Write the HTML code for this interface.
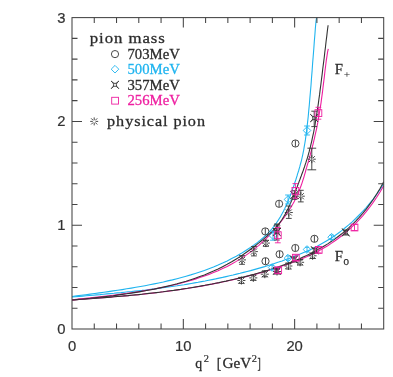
<!DOCTYPE html>
<html><head><meta charset="utf-8"><title>form factors</title>
<style>html,body{margin:0;padding:0;background:#fff;}svg{display:block}text{font-kerning:none}</style></head>
<body><svg width="393" height="377" viewBox="0 0 393 377">
<rect x="0" y="0" width="393" height="377" fill="#fff"/>
<path d="M72.0,296.9 L75.5,296.7 L79.0,296.4 L82.5,296.1 L86.0,295.8 L89.5,295.5 L93.0,295.2 L96.5,294.9 L100.0,294.6 L103.5,294.2 L107.0,293.9 L110.5,293.6 L114.0,293.3 L117.5,292.9 L121.0,292.6 L124.5,292.2 L128.0,291.8 L131.5,291.5 L135.0,291.1 L138.5,290.7 L142.0,290.4 L145.5,290.0 L149.0,289.5 L152.6,289.1 L156.1,288.7 L159.6,288.2 L163.1,287.8 L166.6,287.3 L170.1,286.8 L173.6,286.3 L177.1,285.8 L180.6,285.2 L184.1,284.7 L187.6,284.1 L191.1,283.5 L194.6,282.9 L198.1,282.3 L201.6,281.6 L205.1,281.0 L208.6,280.3 L212.1,279.6 L215.6,278.9 L219.1,278.1 L222.6,277.4 L226.1,276.6 L229.6,275.8 L233.1,275.0 L236.6,274.1 L240.1,273.3 L243.6,272.4 L247.1,271.5 L250.6,270.6 L254.1,269.6 L257.6,268.6 L261.1,267.6 L264.6,266.6 L268.1,265.5 L271.6,264.4 L275.1,263.2 L278.6,262.1 L282.1,260.9 L285.6,259.6 L289.1,258.4 L292.6,257.1 L296.1,255.7 L299.6,254.3 L303.1,252.8 L306.7,251.3 L310.2,249.7 L313.7,248.0 L317.2,246.2 L320.7,244.3 L324.2,242.3 L327.7,240.2 L331.2,238.0 L334.7,235.7 L338.2,233.2 L341.7,230.6 L345.2,227.8 L348.7,224.9 L352.2,221.8 L355.7,218.5 L359.2,215.0 L362.7,211.4 L366.2,207.5 L369.7,203.4 L373.2,199.0 L376.7,194.2 L380.2,189.2 L383.7,183.7" fill="none" stroke="#1fb4ef" stroke-width="1.1"/>
<path d="M72.0,299.9 L75.5,299.7 L79.0,299.4 L82.5,299.2 L86.0,298.9 L89.5,298.7 L93.0,298.4 L96.5,298.2 L100.0,297.9 L103.5,297.7 L107.0,297.4 L110.5,297.1 L114.0,296.8 L117.5,296.5 L121.0,296.2 L124.5,295.9 L128.0,295.6 L131.5,295.3 L135.0,295.0 L138.5,294.6 L142.0,294.3 L145.5,293.9 L149.0,293.5 L152.6,293.1 L156.1,292.7 L159.6,292.3 L163.1,291.8 L166.6,291.4 L170.1,290.9 L173.6,290.5 L177.1,290.0 L180.6,289.5 L184.1,288.9 L187.6,288.4 L191.1,287.8 L194.6,287.3 L198.1,286.7 L201.6,286.1 L205.1,285.4 L208.6,284.8 L212.1,284.1 L215.6,283.4 L219.1,282.7 L222.6,282.0 L226.1,281.3 L229.6,280.5 L233.1,279.8 L236.6,278.9 L240.1,278.1 L243.6,277.3 L247.1,276.4 L250.6,275.5 L254.1,274.6 L257.6,273.6 L261.1,272.7 L264.6,271.7 L268.1,270.6 L271.6,269.5 L275.1,268.4 L278.6,267.3 L282.1,266.1 L285.6,264.9 L289.1,263.7 L292.6,262.4 L296.1,261.1 L299.6,259.7 L303.1,258.2 L306.7,256.7 L310.2,255.1 L313.7,253.4 L317.2,251.7 L320.7,249.8 L324.2,247.8 L327.7,245.7 L331.2,243.4 L334.7,241.0 L338.2,238.5 L341.7,235.8 L345.2,232.9 L348.7,229.9 L352.2,226.7 L355.7,223.3 L359.2,219.6 L362.7,215.8 L366.2,211.6 L369.7,207.2 L373.2,202.4 L376.7,197.3 L380.2,191.8 L383.7,185.7" fill="none" stroke="#ee1fa0" stroke-width="1.1"/>
<path d="M72.0,299.9 L75.5,299.7 L79.0,299.4 L82.5,299.2 L86.0,298.9 L89.5,298.7 L93.0,298.4 L96.5,298.2 L100.0,297.9 L103.5,297.6 L107.0,297.4 L110.5,297.1 L114.0,296.8 L117.5,296.5 L121.0,296.2 L124.5,295.9 L128.0,295.6 L131.5,295.2 L135.0,294.9 L138.5,294.6 L142.0,294.2 L145.5,293.8 L149.0,293.4 L152.6,293.0 L156.1,292.6 L159.6,292.2 L163.1,291.8 L166.6,291.3 L170.1,290.8 L173.6,290.4 L177.1,289.9 L180.6,289.4 L184.1,288.8 L187.6,288.3 L191.1,287.7 L194.6,287.1 L198.1,286.5 L201.6,285.9 L205.1,285.3 L208.6,284.6 L212.1,284.0 L215.6,283.3 L219.1,282.6 L222.6,281.8 L226.1,281.1 L229.6,280.3 L233.1,279.5 L236.6,278.7 L240.1,277.9 L243.6,277.0 L247.1,276.1 L250.6,275.2 L254.1,274.3 L257.6,273.3 L261.1,272.3 L264.6,271.3 L268.1,270.2 L271.6,269.1 L275.1,268.0 L278.6,266.8 L282.1,265.6 L285.6,264.3 L289.1,263.0 L292.6,261.6 L296.1,260.2 L299.6,258.7 L303.1,257.1 L306.7,255.5 L310.2,253.8 L313.7,252.0 L317.2,250.1 L320.7,248.1 L324.2,246.0 L327.7,243.9 L331.2,241.5 L334.7,239.1 L338.2,236.5 L341.7,233.8 L345.2,230.9 L348.7,227.9 L352.2,224.6 L355.7,221.1 L359.2,217.4 L362.7,213.4 L366.2,209.1 L369.7,204.4 L373.2,199.5 L376.7,194.0 L380.2,188.2 L383.7,181.7" fill="none" stroke="#333" stroke-width="1.1"/>
<path d="M72.0,296.5 L76.6,295.9 L81.1,295.3 L85.7,294.7 L90.3,294.1 L94.8,293.5 L99.4,292.9 L103.9,292.3 L108.5,291.6 L113.1,290.9 L117.6,290.3 L122.2,289.6 L126.8,288.8 L131.3,288.1 L135.9,287.3 L140.5,286.5 L145.0,285.7 L149.6,284.8 L154.2,283.9 L158.7,283.0 L163.3,282.0 L167.8,280.9 L172.4,279.9 L177.0,278.7 L181.5,277.5 L186.1,276.2 L190.7,274.9 L195.2,273.5 L199.8,272.0 L204.4,270.4 L208.9,268.7 L213.5,267.0 L218.1,265.1 L222.6,263.1 L227.2,260.9 L231.7,258.6 L236.3,256.2 L240.9,253.6 L245.4,250.8 L250.0,247.8 L250.6,247.4 L251.1,247.0 L251.7,246.6 L252.2,246.2 L252.8,245.8 L253.4,245.4 L253.9,245.0 L254.5,244.6 L255.0,244.2 L255.6,243.8 L256.2,243.4 L256.7,243.0 L257.3,242.6 L257.8,242.1 L258.4,241.7 L258.9,241.3 L259.5,240.8 L260.1,240.4 L260.6,239.9 L261.2,239.4 L261.7,239.0 L262.3,238.5 L262.9,238.0 L263.4,237.5 L264.0,237.0 L264.5,236.5 L265.1,236.0 L265.7,235.5 L266.2,234.9 L266.8,234.4 L267.3,233.8 L267.9,233.3 L268.5,232.7 L269.0,232.1 L269.6,231.5 L270.1,230.9 L270.7,230.2 L271.3,229.6 L271.8,229.0 L272.4,228.3 L272.9,227.6 L273.5,226.9 L274.0,226.2 L274.6,225.4 L275.2,224.7 L275.7,223.9 L276.3,223.1 L276.8,222.3 L277.4,221.5 L278.0,220.7 L278.5,219.8 L279.1,218.9 L279.6,218.0 L280.2,217.1 L280.8,216.1 L281.3,215.1 L281.9,214.1 L282.4,213.1 L283.0,212.1 L283.6,211.0 L284.1,209.8 L284.7,208.7 L285.2,207.5 L285.8,206.3 L286.4,205.1 L286.9,203.8 L287.5,202.5 L288.0,201.2 L288.6,199.8 L289.1,198.4 L289.7,197.0 L290.3,195.6 L290.8,194.1 L291.4,192.6 L291.9,191.1 L292.5,189.5 L293.1,187.9 L293.6,186.3 L294.2,184.6 L294.7,182.9 L295.3,181.2 L295.9,179.5 L296.4,177.8 L297.0,176.0 L297.5,174.2 L298.1,172.3 L298.7,170.5 L299.2,168.6 L299.8,166.7 L300.3,164.7 L300.9,162.5 L301.5,160.3 L302.0,158.0 L302.6,155.5 L303.1,152.8 L303.7,150.0 L304.2,146.9 L304.8,143.5 L305.4,139.9 L305.9,136.0 L306.5,131.7 L307.0,127.1 L307.6,122.1 L308.2,116.7 L308.7,111.1 L309.3,105.0 L309.8,98.7 L310.4,92.1 L311.0,85.2 L311.5,78.1 L312.1,70.9 L312.6,63.6 L313.2,56.2 L313.8,48.8 L314.3,41.6 L314.9,34.5 L315.4,27.7 L316.0,21.3 L316.6,17.6" fill="none" stroke="#1fb4ef" stroke-width="1.1"/>
<path d="M72.0,299.9 L76.6,299.4 L81.1,298.9 L85.7,298.4 L90.3,297.9 L94.8,297.4 L99.4,296.9 L103.9,296.4 L108.5,295.8 L113.1,295.2 L117.6,294.6 L122.2,294.0 L126.8,293.4 L131.3,292.7 L135.9,292.1 L140.5,291.4 L145.0,290.6 L149.6,289.8 L154.2,289.0 L158.7,288.1 L163.3,287.2 L167.8,286.3 L172.4,285.2 L177.0,284.2 L181.5,283.0 L186.1,281.8 L190.7,280.5 L195.2,279.1 L199.8,277.6 L204.4,276.1 L208.9,274.4 L213.5,272.6 L218.1,270.7 L222.6,268.6 L227.2,266.4 L231.7,264.0 L236.3,261.4 L240.9,258.6 L245.4,255.6 L250.0,252.4 L250.7,251.9 L251.3,251.4 L252.0,250.9 L252.6,250.4 L253.3,249.9 L253.9,249.4 L254.6,248.8 L255.3,248.3 L255.9,247.8 L256.6,247.2 L257.2,246.7 L257.9,246.1 L258.6,245.6 L259.2,245.0 L259.9,244.4 L260.5,243.8 L261.2,243.2 L261.8,242.6 L262.5,242.0 L263.2,241.4 L263.8,240.8 L264.5,240.2 L265.1,239.5 L265.8,238.9 L266.4,238.3 L267.1,237.6 L267.8,236.9 L268.4,236.3 L269.1,235.6 L269.7,234.9 L270.4,234.2 L271.1,233.5 L271.7,232.8 L272.4,232.0 L273.0,231.3 L273.7,230.6 L274.3,229.8 L275.0,229.1 L275.7,228.3 L276.3,227.5 L277.0,226.7 L277.6,225.9 L278.3,225.1 L279.0,224.3 L279.6,223.4 L280.3,222.6 L280.9,221.7 L281.6,220.9 L282.2,220.0 L282.9,219.1 L283.6,218.2 L284.2,217.3 L284.9,216.4 L285.5,215.5 L286.2,214.5 L286.8,213.5 L287.5,212.6 L288.2,211.6 L288.8,210.6 L289.5,209.6 L290.1,208.5 L290.8,207.4 L291.5,206.4 L292.1,205.2 L292.8,204.1 L293.4,202.9 L294.1,201.7 L294.7,200.4 L295.4,199.1 L296.1,197.8 L296.7,196.4 L297.4,194.9 L298.0,193.4 L298.7,191.9 L299.3,190.2 L300.0,188.6 L300.7,186.8 L301.3,185.0 L302.0,183.1 L302.6,181.1 L303.3,179.0 L304.0,176.8 L304.6,174.6 L305.3,172.3 L305.9,170.0 L306.6,167.7 L307.2,165.4 L307.9,163.1 L308.6,160.8 L309.2,158.4 L309.9,156.1 L310.5,153.7 L311.2,151.2 L311.9,148.8 L312.5,146.2 L313.2,143.6 L313.8,140.9 L314.5,138.1 L315.1,135.2 L315.8,132.2 L316.5,129.1 L317.1,125.8 L317.8,122.4 L318.4,118.8 L319.1,115.0 L319.7,111.0 L320.4,106.8 L321.1,102.3 L321.7,97.6 L322.4,92.7 L323.0,87.4 L323.7,81.9 L324.4,76.3 L325.0,70.7 L325.7,65.3 L326.3,60.3 L327.0,55.8 L327.6,51.9 L328.3,48.9" fill="none" stroke="#ee1fa0" stroke-width="1.1"/>
<path d="M72.0,300.0 L76.6,299.6 L81.1,299.2 L85.7,298.7 L90.3,298.3 L94.8,297.8 L99.4,297.3 L103.9,296.8 L108.5,296.2 L113.1,295.7 L117.6,295.1 L122.2,294.4 L126.8,293.8 L131.3,293.1 L135.9,292.4 L140.5,291.6 L145.0,290.8 L149.6,290.0 L154.2,289.1 L158.7,288.1 L163.3,287.1 L167.8,286.1 L172.4,285.0 L177.0,283.8 L181.5,282.5 L186.1,281.2 L190.7,279.7 L195.2,278.2 L199.8,276.6 L204.4,274.9 L208.9,273.0 L213.5,271.1 L218.1,269.0 L222.6,266.7 L227.2,264.3 L231.7,261.8 L236.3,259.0 L240.9,256.1 L245.4,253.0 L250.0,249.7 L250.7,249.2 L251.3,248.7 L252.0,248.2 L252.6,247.7 L253.3,247.2 L253.9,246.7 L254.6,246.2 L255.3,245.7 L255.9,245.2 L256.6,244.7 L257.2,244.2 L257.9,243.6 L258.5,243.1 L259.2,242.6 L259.8,242.1 L260.5,241.5 L261.2,241.0 L261.8,240.4 L262.5,239.9 L263.1,239.4 L263.8,238.8 L264.4,238.3 L265.1,237.7 L265.8,237.2 L266.4,236.6 L267.1,236.0 L267.7,235.5 L268.4,234.9 L269.0,234.3 L269.7,233.7 L270.3,233.1 L271.0,232.5 L271.7,231.9 L272.3,231.2 L273.0,230.6 L273.6,229.9 L274.3,229.2 L274.9,228.5 L275.6,227.8 L276.3,227.1 L276.9,226.3 L277.6,225.5 L278.2,224.7 L278.9,223.9 L279.5,223.0 L280.2,222.1 L280.8,221.2 L281.5,220.2 L282.2,219.2 L282.8,218.2 L283.5,217.1 L284.1,216.0 L284.8,214.9 L285.4,213.7 L286.1,212.4 L286.8,211.1 L287.4,209.8 L288.1,208.5 L288.7,207.1 L289.4,205.7 L290.0,204.2 L290.7,202.7 L291.3,201.2 L292.0,199.7 L292.7,198.1 L293.3,196.5 L294.0,194.9 L294.6,193.3 L295.3,191.6 L295.9,189.9 L296.6,188.2 L297.3,186.5 L297.9,184.8 L298.6,183.1 L299.2,181.3 L299.9,179.6 L300.5,177.8 L301.2,176.0 L301.8,174.3 L302.5,172.5 L303.2,170.6 L303.8,168.8 L304.5,166.9 L305.1,164.9 L305.8,162.9 L306.4,160.9 L307.1,158.8 L307.8,156.6 L308.4,154.3 L309.1,151.9 L309.7,149.4 L310.4,146.9 L311.0,144.2 L311.7,141.3 L312.3,138.4 L313.0,135.2 L313.7,132.0 L314.3,128.5 L315.0,124.8 L315.6,121.0 L316.3,117.0 L316.9,112.8 L317.6,108.4 L318.3,103.9 L318.9,99.2 L319.6,94.4 L320.2,89.4 L320.9,84.3 L321.5,79.2 L322.2,73.9 L322.8,68.5 L323.5,63.1 L324.2,57.7 L324.8,52.2 L325.5,46.7 L326.1,41.3 L326.8,35.9 L327.4,30.5 L328.1,25.3" fill="none" stroke="#333" stroke-width="1.1"/>
<rect x="72.0" y="17.6" width="311.70" height="311.40" fill="none" stroke="#444" stroke-width="1.05"/>
<path d="M94.26,329.0 v-5.5 M94.26,17.6 v5.5 M116.53,329.0 v-5.5 M116.53,17.6 v5.5 M138.79,329.0 v-5.5 M138.79,17.6 v5.5 M161.06,329.0 v-5.5 M161.06,17.6 v5.5 M183.32,329.0 v-10 M183.32,17.6 v10 M205.59,329.0 v-5.5 M205.59,17.6 v5.5 M227.85,329.0 v-5.5 M227.85,17.6 v5.5 M250.11,329.0 v-5.5 M250.11,17.6 v5.5 M272.38,329.0 v-5.5 M272.38,17.6 v5.5 M294.64,329.0 v-10 M294.64,17.6 v10 M316.91,329.0 v-5.5 M316.91,17.6 v5.5 M339.17,329.0 v-5.5 M339.17,17.6 v5.5 M361.44,329.0 v-5.5 M361.44,17.6 v5.5 M72.0,308.24 h5.5 M383.7,308.24 h-5.5 M72.0,287.48 h5.5 M383.7,287.48 h-5.5 M72.0,266.72 h5.5 M383.7,266.72 h-5.5 M72.0,245.96 h5.5 M383.7,245.96 h-5.5 M72.0,225.20 h10 M383.7,225.20 h-10 M72.0,204.44 h5.5 M383.7,204.44 h-5.5 M72.0,183.68 h5.5 M383.7,183.68 h-5.5 M72.0,162.92 h5.5 M383.7,162.92 h-5.5 M72.0,142.16 h5.5 M383.7,142.16 h-5.5 M72.0,121.40 h10 M383.7,121.40 h-10 M72.0,100.64 h5.5 M383.7,100.64 h-5.5 M72.0,79.88 h5.5 M383.7,79.88 h-5.5 M72.0,59.12 h5.5 M383.7,59.12 h-5.5 M72.0,38.36 h5.5 M383.7,38.36 h-5.5" fill="none" stroke="#444" stroke-width="1.05"/>
<g opacity="0.999">
<text x="72.00" y="350.9" font-family="Liberation Sans, sans-serif" font-size="14.8" fill="#333" stroke="#333" stroke-width="0.2" text-anchor="middle">0</text>
<text x="183.32" y="350.9" font-family="Liberation Sans, sans-serif" font-size="14.8" fill="#333" stroke="#333" stroke-width="0.2" text-anchor="middle">10</text>
<text x="294.64" y="350.9" font-family="Liberation Sans, sans-serif" font-size="14.8" fill="#333" stroke="#333" stroke-width="0.2" text-anchor="middle">20</text>
<text x="65.6" y="334.00" font-family="Liberation Sans, sans-serif" font-size="14.8" fill="#333" stroke="#333" stroke-width="0.2" text-anchor="end">0</text>
<text x="65.6" y="230.20" font-family="Liberation Sans, sans-serif" font-size="14.8" fill="#333" stroke="#333" stroke-width="0.2" text-anchor="end">1</text>
<text x="65.6" y="126.40" font-family="Liberation Sans, sans-serif" font-size="14.8" fill="#333" stroke="#333" stroke-width="0.2" text-anchor="end">2</text>
<text x="65.6" y="22.60" font-family="Liberation Sans, sans-serif" font-size="14.8" fill="#333" stroke="#333" stroke-width="0.2" text-anchor="end">3</text>
<text x="195.3" y="368.2" font-family="Liberation Serif, serif" font-size="15.5" fill="#2b2b2b" stroke="#2b2b2b" stroke-width="0.28" textLength="6.9" lengthAdjust="spacingAndGlyphs">q</text>
<text x="203.7" y="362.2" font-family="Liberation Serif, serif" font-size="10" fill="#2b2b2b" stroke="#2b2b2b" stroke-width="0.2" textLength="5.2" lengthAdjust="spacingAndGlyphs">2</text>
<text x="216.8" y="368.2" font-family="Liberation Serif, serif" font-size="15.5" fill="#2b2b2b" stroke="#2b2b2b" stroke-width="0.28" textLength="4.5" lengthAdjust="spacingAndGlyphs">[</text>
<text x="222.6" y="368.2" font-family="Liberation Serif, serif" font-size="15.5" fill="#2b2b2b" stroke="#2b2b2b" stroke-width="0.28" textLength="28.8" lengthAdjust="spacingAndGlyphs">GeV</text>
<text x="251.8" y="362.2" font-family="Liberation Serif, serif" font-size="10" fill="#2b2b2b" stroke="#2b2b2b" stroke-width="0.2" textLength="5.2" lengthAdjust="spacingAndGlyphs">2</text>
<text x="257.6" y="368.2" font-family="Liberation Serif, serif" font-size="15.5" fill="#2b2b2b" stroke="#2b2b2b" stroke-width="0.28" textLength="3.3" lengthAdjust="spacingAndGlyphs">]</text>
<text transform="translate(89.8,43.2) scale(1.12,1)" font-family="Liberation Serif, serif" font-size="15" fill="#2b2b2b" stroke="#2b2b2b" stroke-width="0.28" textLength="66.96" lengthAdjust="spacing">pion mass</text>
<text x="127.5" y="58.6" font-family="Liberation Serif, serif" font-size="15" fill="#2b2b2b" stroke="#2b2b2b" stroke-width="0.28" textLength="52.3" lengthAdjust="spacingAndGlyphs">703MeV</text>
<text x="127.5" y="74.1" font-family="Liberation Serif, serif" font-size="15" fill="#1fb4ef" stroke="#1fb4ef" stroke-width="0.28" textLength="52.3" lengthAdjust="spacingAndGlyphs">500MeV</text>
<text x="127.5" y="89.8" font-family="Liberation Serif, serif" font-size="15" fill="#2b2b2b" stroke="#2b2b2b" stroke-width="0.28" textLength="52.3" lengthAdjust="spacingAndGlyphs">357MeV</text>
<text x="127.5" y="105.4" font-family="Liberation Serif, serif" font-size="15" fill="#ee1fa0" stroke="#ee1fa0" stroke-width="0.28" textLength="52.3" lengthAdjust="spacingAndGlyphs">256MeV</text>
<text transform="translate(107.1,126.3) scale(1.08,1)" font-family="Liberation Serif, serif" font-size="15" fill="#2b2b2b" stroke="#2b2b2b" stroke-width="0.28" textLength="90.65" lengthAdjust="spacing">physical pion</text>
<text x="334.7" y="74" font-family="Liberation Serif, serif" font-size="15" fill="#2b2b2b" stroke="#2b2b2b" stroke-width="0.28" textLength="8.2" lengthAdjust="spacingAndGlyphs">F</text>
<text x="343.8" y="78" font-family="Liberation Serif, serif" font-size="11" fill="#2b2b2b" stroke="#2b2b2b" stroke-width="0.1" textLength="6.4" lengthAdjust="spacingAndGlyphs">+</text>
<text x="334.7" y="260.9" font-family="Liberation Serif, serif" font-size="15" fill="#2b2b2b" stroke="#2b2b2b" stroke-width="0.28" textLength="8.2" lengthAdjust="spacingAndGlyphs">F</text>
<text x="343.5" y="264.9" font-family="Liberation Sans, sans-serif" font-size="9.8" fill="#2b2b2b" stroke="#2b2b2b" stroke-width="0.25">0</text>
</g>
<circle cx="115" cy="54.1" r="3.6" fill="none" stroke="#333" stroke-width="0.9"/>
<path d="M111.2,69.2 L115,65.4 L118.8,69.2 L115,73.0 Z" fill="none" stroke="#1fb4ef" stroke-width="0.9"/>
<path d="M111.20,81.00 Q115,86.00 118.80,81.00 Q113.80,84.8 118.80,88.60 Q115,83.60 111.20,88.60 Q116.20,84.8 111.20,81.00 Z" fill="none" stroke="#333" stroke-width="0.9" stroke-linejoin="miter"/>
<rect x="111.70" y="97.30" width="6.8" height="6.8" fill="none" stroke="#ee1fa0" stroke-width="0.9"/>
<path d="M95.60,121.40 L98.20,121.40 M95.19,122.39 L97.24,124.44 M94.20,122.80 L94.20,125.40 M93.21,122.39 L91.16,124.44 M92.80,121.40 L90.20,121.40 M93.21,120.41 L91.16,118.36 M94.20,120.00 L94.20,117.40 M95.19,120.41 L97.24,118.36" fill="none" stroke="#333" stroke-width="0.9"/>
<path d="M243.40,259.90 L246.00,259.90 M242.99,260.89 L245.04,262.94 M242.00,261.30 L242.00,263.90 M241.01,260.89 L238.96,262.94 M240.60,259.90 L238.00,259.90 M241.01,258.91 L238.96,256.86 M242.00,258.50 L242.00,255.90 M242.99,258.91 L245.04,256.86" fill="none" stroke="#333" stroke-width="0.9"/><path d="M242.0,255.6 V264.3 M239.1,255.6 h5.8 M239.1,264.3 h5.8" fill="none" stroke="#333" stroke-width="0.9"/>
<path d="M255.30,251.60 L257.90,251.60 M254.89,252.59 L256.94,254.64 M253.90,253.00 L253.90,255.60 M252.91,252.59 L250.86,254.64 M252.50,251.60 L249.90,251.60 M252.91,250.61 L250.86,248.56 M253.90,250.20 L253.90,247.60 M254.89,250.61 L256.94,248.56" fill="none" stroke="#333" stroke-width="0.9"/><path d="M253.9,246.6 V255.9 M251.0,246.6 h5.8 M251.0,255.9 h5.8" fill="none" stroke="#333" stroke-width="0.9"/>
<path d="M267.30,243.10 L269.90,243.10 M266.89,244.09 L268.94,246.14 M265.90,244.50 L265.90,247.10 M264.91,244.09 L262.86,246.14 M264.50,243.10 L261.90,243.10 M264.91,242.11 L262.86,240.06 M265.90,241.70 L265.90,239.10 M266.89,242.11 L268.94,240.06" fill="none" stroke="#333" stroke-width="0.9"/><path d="M265.9,240.3 V246.3 M263.0,240.3 h5.8 M263.0,246.3 h5.8" fill="none" stroke="#333" stroke-width="0.9"/>
<path d="M278.40,228.50 L281.00,228.50 M277.99,229.49 L280.04,231.54 M277.00,229.90 L277.00,232.50 M276.01,229.49 L273.96,231.54 M275.60,228.50 L273.00,228.50 M276.01,227.51 L273.96,225.46 M277.00,227.10 L277.00,224.50 M277.99,227.51 L280.04,225.46" fill="none" stroke="#333" stroke-width="0.9"/><path d="M277.0,224 V233 M274.1,224 h5.8 M274.1,233 h5.8" fill="none" stroke="#333" stroke-width="0.9"/>
<path d="M290.20,212.50 L292.80,212.50 M289.79,213.49 L291.84,215.54 M288.80,213.90 L288.80,216.50 M287.81,213.49 L285.76,215.54 M287.40,212.50 L284.80,212.50 M287.81,211.51 L285.76,209.46 M288.80,211.10 L288.80,208.50 M289.79,211.51 L291.84,209.46" fill="none" stroke="#333" stroke-width="0.9"/><path d="M288.8,206 V218.4 M285.90000000000003,206 h5.8 M285.90000000000003,218.4 h5.8" fill="none" stroke="#333" stroke-width="0.9"/>
<path d="M302.20,196.20 L304.80,196.20 M301.79,197.19 L303.84,199.24 M300.80,197.60 L300.80,200.20 M299.81,197.19 L297.76,199.24 M299.40,196.20 L296.80,196.20 M299.81,195.21 L297.76,193.16 M300.80,194.80 L300.80,192.20 M301.79,195.21 L303.84,193.16" fill="none" stroke="#333" stroke-width="0.9"/><path d="M300.8,190.3 V201.9 M297.90000000000003,190.3 h5.8 M297.90000000000003,201.9 h5.8" fill="none" stroke="#333" stroke-width="0.9"/>
<path d="M313.20,159.20 L315.80,159.20 M312.79,160.19 L314.84,162.24 M311.80,160.60 L311.80,163.20 M310.81,160.19 L308.76,162.24 M310.40,159.20 L307.80,159.20 M310.81,158.21 L308.76,156.16 M311.80,157.80 L311.80,155.20 M312.79,158.21 L314.84,156.16" fill="none" stroke="#333" stroke-width="0.9"/><path d="M311.8,148.2 V169.8 M307.40000000000003,148.2 h8.8 M307.40000000000003,169.8 h8.8" fill="none" stroke="#333" stroke-width="0.9"/>
<path d="M242.80,280.50 L245.40,280.50 M242.39,281.49 L244.44,283.54 M241.40,281.90 L241.40,284.50 M240.41,281.49 L238.36,283.54 M240.00,280.50 L237.40,280.50 M240.41,279.51 L238.36,277.46 M241.40,279.10 L241.40,276.50 M242.39,279.51 L244.44,277.46" fill="none" stroke="#333" stroke-width="0.9"/><path d="M241.4,277.4 V283.4 M238.5,277.4 h5.8 M238.5,283.4 h5.8" fill="none" stroke="#333" stroke-width="0.9"/>
<path d="M254.70,277.90 L257.30,277.90 M254.29,278.89 L256.34,280.94 M253.30,279.30 L253.30,281.90 M252.31,278.89 L250.26,280.94 M251.90,277.90 L249.30,277.90 M252.31,276.91 L250.26,274.86 M253.30,276.50 L253.30,273.90 M254.29,276.91 L256.34,274.86" fill="none" stroke="#333" stroke-width="0.9"/><path d="M253.3,275 V280.3 M250.4,275 h5.8 M250.4,280.3 h5.8" fill="none" stroke="#333" stroke-width="0.9"/>
<path d="M266.20,274.20 L268.80,274.20 M265.79,275.19 L267.84,277.24 M264.80,275.60 L264.80,278.20 M263.81,275.19 L261.76,277.24 M263.40,274.20 L260.80,274.20 M263.81,273.21 L261.76,271.16 M264.80,272.80 L264.80,270.20 M265.79,273.21 L267.84,271.16" fill="none" stroke="#333" stroke-width="0.9"/><path d="M264.8,270.8 V276.8 M261.90000000000003,270.8 h5.8 M261.90000000000003,276.8 h5.8" fill="none" stroke="#333" stroke-width="0.9"/>
<path d="M278.40,271.50 L281.00,271.50 M277.99,272.49 L280.04,274.54 M277.00,272.90 L277.00,275.50 M276.01,272.49 L273.96,274.54 M275.60,271.50 L273.00,271.50 M276.01,270.51 L273.96,268.46 M277.00,270.10 L277.00,267.50 M277.99,270.51 L280.04,268.46" fill="none" stroke="#333" stroke-width="0.9"/><path d="M277,269 V274 M274.1,269 h5.8 M274.1,274 h5.8" fill="none" stroke="#333" stroke-width="0.9"/>
<path d="M289.80,266.00 L292.40,266.00 M289.39,266.99 L291.44,269.04 M288.40,267.40 L288.40,270.00 M287.41,266.99 L285.36,269.04 M287.00,266.00 L284.40,266.00 M287.41,265.01 L285.36,262.96 M288.40,264.60 L288.40,262.00 M289.39,265.01 L291.44,262.96" fill="none" stroke="#333" stroke-width="0.9"/><path d="M288.4,263 V269 M285.5,263 h5.8 M285.5,269 h5.8" fill="none" stroke="#333" stroke-width="0.9"/>
<path d="M301.50,262.30 L304.10,262.30 M301.09,263.29 L303.14,265.34 M300.10,263.70 L300.10,266.30 M299.11,263.29 L297.06,265.34 M298.70,262.30 L296.10,262.30 M299.11,261.31 L297.06,259.26 M300.10,260.90 L300.10,258.30 M301.09,261.31 L303.14,259.26" fill="none" stroke="#333" stroke-width="0.9"/><path d="M300.1,259.5 V265 M297.20000000000005,259.5 h5.8 M297.20000000000005,265 h5.8" fill="none" stroke="#333" stroke-width="0.9"/>
<path d="M314.00,255.80 L316.60,255.80 M313.59,256.79 L315.64,258.84 M312.60,257.20 L312.60,259.80 M311.61,256.79 L309.56,258.84 M311.20,255.80 L308.60,255.80 M311.61,254.81 L309.56,252.76 M312.60,254.40 L312.60,251.80 M313.59,254.81 L315.64,252.76" fill="none" stroke="#333" stroke-width="0.9"/><path d="M312.6,253 V258.5 M309.70000000000005,253 h5.8 M309.70000000000005,258.5 h5.8" fill="none" stroke="#333" stroke-width="0.9"/>
<circle cx="265.3" cy="231.4" r="3.6" fill="none" stroke="#333" stroke-width="0.9"/><path d="M265.3,228.20000000000002 V234.6" fill="none" stroke="#333" stroke-width="0.9"/>
<circle cx="279.1" cy="203.8" r="3.6" fill="none" stroke="#333" stroke-width="0.9"/><path d="M279.1,200.60000000000002 V207.0" fill="none" stroke="#333" stroke-width="0.9"/>
<circle cx="295.4" cy="143.5" r="3.6" fill="none" stroke="#333" stroke-width="0.9"/><path d="M295.4,140.3 V146.7" fill="none" stroke="#333" stroke-width="0.9"/>
<circle cx="265.5" cy="261.2" r="3.6" fill="none" stroke="#333" stroke-width="0.9"/><path d="M265.5,258.0 V264.4" fill="none" stroke="#333" stroke-width="0.9"/>
<circle cx="279.6" cy="254.2" r="3.6" fill="none" stroke="#333" stroke-width="0.9"/><path d="M279.6,251.0 V257.4" fill="none" stroke="#333" stroke-width="0.9"/>
<circle cx="295.3" cy="248" r="3.6" fill="none" stroke="#333" stroke-width="0.9"/><path d="M295.3,244.8 V251.2" fill="none" stroke="#333" stroke-width="0.9"/>
<circle cx="314.4" cy="238.8" r="3.6" fill="none" stroke="#333" stroke-width="0.9"/><path d="M314.4,235.60000000000002 V242.0" fill="none" stroke="#333" stroke-width="0.9"/>
<path d="M269.2,235.7 L273,231.89999999999998 L276.8,235.7 L273,239.5 Z" fill="none" stroke="#1fb4ef" stroke-width="0.9"/><path d="M273,231.2 V240.2 M270.1,231.2 h5.8 M270.1,240.2 h5.8" fill="none" stroke="#1fb4ef" stroke-width="0.9"/>
<path d="M284.2,199.5 L288,195.7 L291.8,199.5 L288,203.3 Z" fill="none" stroke="#1fb4ef" stroke-width="0.9"/><path d="M288,195.0 V204.0 M285.1,195.0 h5.8 M285.1,204.0 h5.8" fill="none" stroke="#1fb4ef" stroke-width="0.9"/>
<path d="M303.2,130.5 L307,126.7 L310.8,130.5 L307,134.3 Z" fill="none" stroke="#1fb4ef" stroke-width="0.9"/><path d="M307,126.0 V135.0 M304.1,126.0 h5.8 M304.1,135.0 h5.8" fill="none" stroke="#1fb4ef" stroke-width="0.9"/>
<path d="M268.3,267.5 L272.1,263.7 L275.90000000000003,267.5 L272.1,271.3 Z" fill="none" stroke="#1fb4ef" stroke-width="0.9"/><path d="M272.1,265.3 V269.7 M270.1,265.3 h4 M270.1,269.7 h4" fill="none" stroke="#1fb4ef" stroke-width="0.9"/>
<path d="M284.2,258.1 L288,254.3 L291.8,258.1 L288,261.90000000000003 Z" fill="none" stroke="#1fb4ef" stroke-width="0.9"/><path d="M288,255.90000000000003 V260.3 M286,255.90000000000003 h4 M286,260.3 h4" fill="none" stroke="#1fb4ef" stroke-width="0.9"/>
<path d="M303.2,249.5 L307,245.7 L310.8,249.5 L307,253.3 Z" fill="none" stroke="#1fb4ef" stroke-width="0.9"/><path d="M307,247.3 V251.7 M305,247.3 h4 M305,251.7 h4" fill="none" stroke="#1fb4ef" stroke-width="0.9"/>
<path d="M327.8,237.2 L331.6,233.39999999999998 L335.40000000000003,237.2 L331.6,241.0 Z" fill="none" stroke="#1fb4ef" stroke-width="0.9"/><path d="M331.6,235.0 V239.39999999999998 M329.6,235.0 h4 M329.6,239.39999999999998 h4" fill="none" stroke="#1fb4ef" stroke-width="0.9"/>
<path d="M273.00,228.20 Q276.8,233.20 280.60,228.20 Q275.60,232 280.60,235.80 Q276.8,230.80 273.00,235.80 Q278.00,232 273.00,228.20 Z" fill="none" stroke="#333" stroke-width="0.9" stroke-linejoin="miter"/><path d="M276.8,225 V240 M273.90000000000003,225 h5.8 M273.90000000000003,240 h5.8" fill="none" stroke="#333" stroke-width="0.9"/>
<path d="M290.50,191.30 Q294.3,196.30 298.10,191.30 Q293.10,195.1 298.10,198.90 Q294.3,193.90 290.50,198.90 Q295.50,195.1 290.50,191.30 Z" fill="none" stroke="#333" stroke-width="0.9" stroke-linejoin="miter"/><path d="M294.3,190.7 V199.3 M291.40000000000003,190.7 h5.8 M291.40000000000003,199.3 h5.8" fill="none" stroke="#333" stroke-width="0.9"/>
<path d="M310.40,114.30 Q314.2,119.30 318.00,114.30 Q313.00,118.1 318.00,121.90 Q314.2,116.90 310.40,121.90 Q315.40,118.1 310.40,114.30 Z" fill="none" stroke="#333" stroke-width="0.9" stroke-linejoin="miter"/><path d="M314.2,111.2 V126.6 M311.3,111.2 h5.8 M311.3,126.6 h5.8" fill="none" stroke="#333" stroke-width="0.9"/>
<path d="M273.10,266.90 Q276.9,271.90 280.70,266.90 Q275.70,270.7 280.70,274.50 Q276.9,269.50 273.10,274.50 Q278.10,270.7 273.10,266.90 Z" fill="none" stroke="#333" stroke-width="0.9" stroke-linejoin="miter"/><path d="M276.9,268 V273.5 M274.0,268 h5.8 M274.0,273.5 h5.8" fill="none" stroke="#333" stroke-width="0.9"/>
<path d="M290.20,255.80 Q294,260.80 297.80,255.80 Q292.80,259.6 297.80,263.40 Q294,258.40 290.20,263.40 Q295.20,259.6 290.20,255.80 Z" fill="none" stroke="#333" stroke-width="0.9" stroke-linejoin="miter"/><path d="M294,257 V262 M291.1,257 h5.8 M291.1,262 h5.8" fill="none" stroke="#333" stroke-width="0.9"/>
<path d="M311.00,246.50 Q314.8,251.50 318.60,246.50 Q313.60,250.3 318.60,254.10 Q314.8,249.10 311.00,254.10 Q316.00,250.3 311.00,246.50 Z" fill="none" stroke="#333" stroke-width="0.9" stroke-linejoin="miter"/><path d="M314.8,248 V253 M311.90000000000003,248 h5.8 M311.90000000000003,253 h5.8" fill="none" stroke="#333" stroke-width="0.9"/>
<path d="M342.00,228.60 Q345.8,233.60 349.60,228.60 Q344.60,232.4 349.60,236.20 Q345.8,231.20 342.00,236.20 Q347.00,232.4 342.00,228.60 Z" fill="none" stroke="#333" stroke-width="0.9" stroke-linejoin="miter"/><path d="M345.8,230 V235 M342.90000000000003,230 h5.8 M342.90000000000003,235 h5.8" fill="none" stroke="#333" stroke-width="0.9"/>
<rect x="274.40" y="231.80" width="6.8" height="6.8" fill="none" stroke="#ee1fa0" stroke-width="0.9"/><path d="M277.8,227.5 V242.8 M274.90000000000003,227.5 h5.8 M274.90000000000003,242.8 h5.8" fill="none" stroke="#ee1fa0" stroke-width="0.9"/>
<rect x="292.00" y="187.50" width="6.8" height="6.8" fill="none" stroke="#ee1fa0" stroke-width="0.9"/><path d="M295.4,183.6 V198.2 M292.5,183.6 h5.8 M292.5,198.2 h5.8" fill="none" stroke="#ee1fa0" stroke-width="0.9"/>
<rect x="315.00" y="109.70" width="6.8" height="6.8" fill="none" stroke="#ee1fa0" stroke-width="0.9"/><path d="M318.4,107.3 V119.2 M315.5,107.3 h5.8 M315.5,119.2 h5.8" fill="none" stroke="#ee1fa0" stroke-width="0.9"/>
<rect x="274.80" y="266.90" width="6.8" height="6.8" fill="none" stroke="#ee1fa0" stroke-width="0.9"/><path d="M278.2,267.3 V273.3 M275.3,267.3 h5.8 M275.3,273.3 h5.8" fill="none" stroke="#ee1fa0" stroke-width="0.9"/>
<rect x="292.40" y="254.30" width="6.8" height="6.8" fill="none" stroke="#ee1fa0" stroke-width="0.9"/><path d="M295.8,255 V260.5 M292.90000000000003,255 h5.8 M292.90000000000003,260.5 h5.8" fill="none" stroke="#ee1fa0" stroke-width="0.9"/>
<rect x="315.30" y="246.50" width="6.8" height="6.8" fill="none" stroke="#ee1fa0" stroke-width="0.9"/><path d="M318.7,247 V253 M315.8,247 h5.8 M315.8,253 h5.8" fill="none" stroke="#ee1fa0" stroke-width="0.9"/>
<rect x="351.10" y="224.10" width="6.8" height="6.8" fill="none" stroke="#ee1fa0" stroke-width="0.9"/><path d="M354.5,224.5 V230.5 M351.6,224.5 h5.8 M351.6,230.5 h5.8" fill="none" stroke="#ee1fa0" stroke-width="0.9"/>
</svg></body></html>
